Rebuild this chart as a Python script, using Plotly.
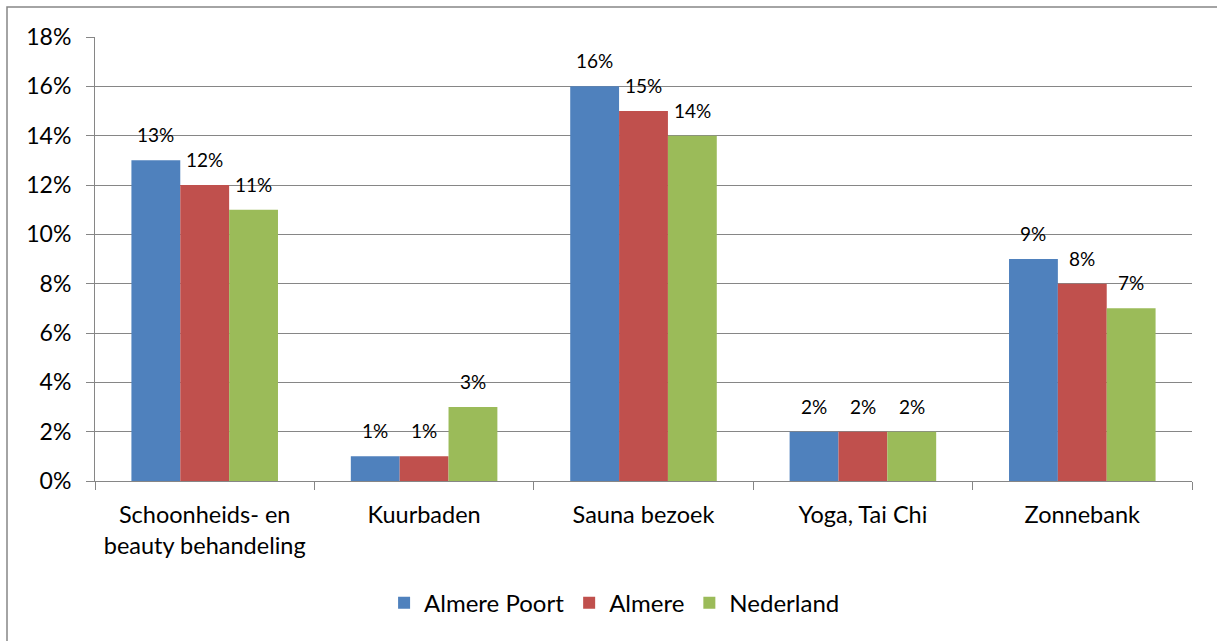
import plotly.graph_objects as go

categories = ["Schoonheids- en<br>beauty behandeling", "Kuurbaden", "Sauna bezoek", "Yoga, Tai Chi", "Zonnebank"]
series_names = ["Almere Poort", "Almere", "Nederland"]
almere_poort = [0.13, 0.01, 0.16, 0.02, 0.09]
almere = [0.12, 0.01, 0.15, 0.02, 0.08]
nederland = [0.11, 0.03, 0.14, 0.02, 0.07]
colors = ["#4F81BD", "#C0504D", "#9BBB59"]
y_ticks = [0, 0.02, 0.04, 0.06, 0.08, 0.10, 0.12, 0.14, 0.16, 0.18]

FONT = "Lato, Carlito, 'Open Sans', sans-serif"
all_series = [almere_poort, almere, nederland]
bargap = 0.332

fig = go.Figure()
for name, vals, col in zip(series_names, all_series, colors):
    fig.add_trace(go.Bar(x=categories, y=vals, name=name, marker=dict(color=col, line=dict(width=0))))

annotations = []
bw = (1 - bargap) / 3
for k, vals in enumerate(all_series):
    for i, v in enumerate(vals):
        annotations.append(dict(
            x=i + (k - 1) * bw, y=v, xref="x", yref="y",
            text=f"{round(v*100)}%", showarrow=False, yanchor="bottom",
            yshift=12, font=dict(size=19, color="#000000", family=FONT)))

fig.update_layout(
    width=1217, height=641,
    margin=dict(l=95, r=25, t=37, b=160),
    paper_bgcolor="white", plot_bgcolor="white",
    barmode="group", bargap=bargap, bargroupgap=0,
    font=dict(family=FONT, size=23, color="#000000"),
    annotations=annotations,
    legend=dict(orientation="h", xref="container", yref="container",
                x=0.505, y=0.059, xanchor="center", yanchor="middle",
                font=dict(size=24), itemwidth=30, traceorder="normal"),
    shapes=[dict(type="rect", xref="paper", yref="paper",
                 x0=(7 - 95) / 1097, x1=1.2, y0=-0.6, y1=(481 - 7) / 444,
                 line=dict(color="#868686", width=1.5), layer="below")],
    showlegend=True,
)
fig.update_yaxes(range=[0, 0.18], tickvals=y_ticks, tickformat=".0%",
                 showgrid=True, gridcolor="#868686", gridwidth=1,
                 showline=True, linecolor="#868686", linewidth=1,
                 ticks="outside", ticklen=8, tickcolor="#868686",
                 ticklabelstandoff=10,
                 zeroline=False, tickfont=dict(size=23))
fig.update_xaxes(showline=True, linecolor="#868686", linewidth=1,
                 ticks="outside", ticklen=8, tickcolor="#868686",
                 ticklabelstandoff=13,
                 tickson="boundaries", tickfont=dict(size=23.5))

fig.write_html("out.html", config={"displayModeBar": False},
               post_script="document.body.style.margin='0';document.body.style.overflow='hidden';")
